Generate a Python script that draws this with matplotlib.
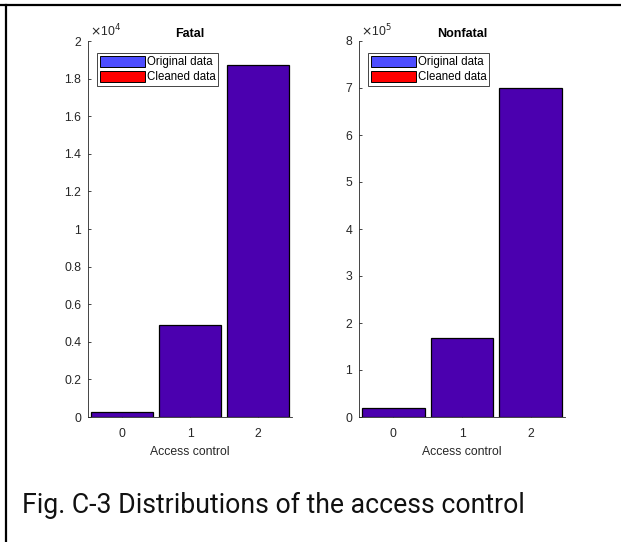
import matplotlib
matplotlib.use("Agg")
import matplotlib.pyplot as plt
from matplotlib.lines import Line2D
from matplotlib.patches import Patch
from matplotlib.ticker import FuncFormatter, MultipleLocator

# Access-control level counts
categories = [0, 1, 2]
fatal_counts = [240, 4880, 18740]
nonfatal_counts = [18500, 169000, 700000]

panel_titles = ["Fatal", "Nonfatal"]
xlabel_text = "Access control"
legend_labels = ["Original data", "Cleaned data"]
caption = "Fig. C-3 Distributions of the access control"

W, H = 621, 542
fig = plt.figure(figsize=(W / 100, H / 100), dpi=100)
fig.patch.set_facecolor("white")

plt.rcParams["font.family"] = ["Liberation Sans", "DejaVu Sans"]

bar_color = "#4B00AF"
orig_color = "#4D4DFF"
clean_color = "#FF0000"
axis_gray = "#262626"


def px_box(left, right, top, bottom):
    return [left / W, 1 - bottom / H, (right - left) / W, (bottom - top) / H]


panels = [
    (px_box(88, 292, 41, 417), fatal_counts, 2e4, 0.2e4, 1e4, "4"),
    (px_box(359, 565, 41, 417), nonfatal_counts, 8e5, 1e5, 1e5, "5"),
]

for (box, counts, ymax, ystep, scale, exp), title in zip(panels, panel_titles):
    ax = fig.add_axes(box)
    ax.bar(categories, counts, width=0.91, color=bar_color,
           edgecolor="black", linewidth=0.9, zorder=2)
    ax.set_xlim(-0.5, 2.5)
    ax.set_ylim(0, ymax)
    ax.set_xticks(categories)
    ax.yaxis.set_major_locator(MultipleLocator(ystep))
    ax.yaxis.set_major_formatter(
        FuncFormatter(lambda v, p, s=scale: f"{v / s:g}"))
    for side in ("top", "right"):
        ax.spines[side].set_visible(False)
    for side in ("left", "bottom"):
        ax.spines[side].set_color(axis_gray)
        ax.spines[side].set_linewidth(0.6)
    ax.tick_params(direction="in", length=2.5, width=0.6, colors=axis_gray,
                   labelsize=8.8, pad=5)
    ax.tick_params(axis="x", pad=8)
    ax.set_xlabel(xlabel_text, fontsize=8.8, color=axis_gray, labelpad=4)
    ax.set_title(title, fontsize=9, fontweight="bold", color="black",
                 pad=3)
    ax.text(0.01, 1.004, r"$\times$10$^{%s}$" % exp, transform=ax.transAxes,
            fontsize=8.8, color=axis_gray, ha="left", va="bottom")
    handles = [Patch(facecolor=orig_color, edgecolor="black", linewidth=0.7),
               Patch(facecolor=clean_color, edgecolor="black", linewidth=0.7)]
    leg = ax.legend(handles, legend_labels, loc="upper left",
                    bbox_to_anchor=(0.044, 0.968), fontsize=8.3,
                    handlelength=3.9, handleheight=1.1, handletextpad=0.15,
                    labelspacing=0.2, borderpad=0.25, borderaxespad=0,
                    fancybox=False, framealpha=1, edgecolor="#262626")
    leg.get_frame().set_linewidth(0.6)

# Frame lines around the figure panel
fig.add_artist(Line2D([0, 1], [1 - 5 / H, 1 - 5 / H], color="black",
                      linewidth=1.6, transform=fig.transFigure))
fig.add_artist(Line2D([6 / W, 6 / W], [0, 1 - 5 / H], color="black",
                      linewidth=1.6, transform=fig.transFigure))

fig.text(22 / W, 1 - 505 / H, caption, fontsize=19.2, family="Roboto",
         ha="left", va="center", color="#111111")

fig.savefig("out.png", dpi=100)
